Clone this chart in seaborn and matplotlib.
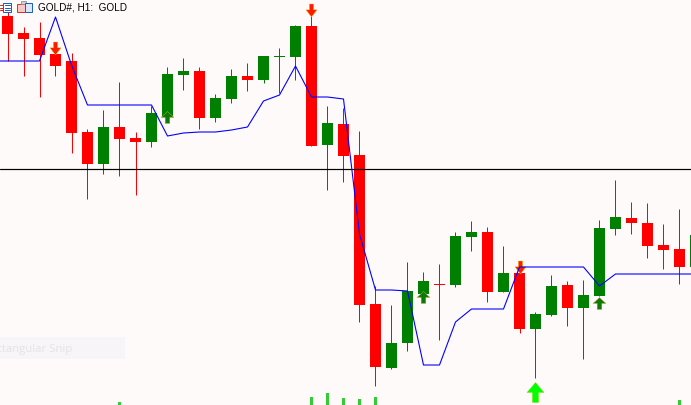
import matplotlib
matplotlib.use("Agg")
import matplotlib.pyplot as plt
from matplotlib.path import Path
from matplotlib.patches import Rectangle
import seaborn as sns
import pandas as pd
import numpy as np

# ---------------- data (price levels) ----------------
bars = list(range(44))
opens = [389, 372, 367, 351, 344, 273, 241, 278, 267, 263, 289, 330, 334, 287, 306,
         329, 325, 348, 348, 379, 260, 281, 250, 101, 37, 62, 111, 121, 120, 168,
         173, 113, 132, 76, 90, 120, 97, 109, 176, 187, 182, 160, 156, 138]
highs = [398, 378, 383, 356, 352, 276, 295, 323, 273, 299, 338, 347, 338, 311, 336,
         342, 349, 357, 380, 389, 299, 297, 274, 119, 100, 143, 133, 141, 173, 184,
         178, 159, 143, 93, 130, 124, 125, 185, 225, 203, 202, 181, 196, 170]
lows = [344, 329, 308, 329, 252, 206, 231, 229, 210, 258, 283, 315, 276, 283, 302,
        314, 322, 312, 325, 259, 215, 223, 83, 19, 36, 54, 110, 65, 118, 154,
        103, 113, 72, 27, 89, 79, 46, 109, 170, 171, 147, 136, 121, 138]
closes = [371, 366, 350, 339, 272, 241, 278, 266, 263, 292, 331, 334, 287, 307, 329,
          325, 349, 349, 379, 259, 282, 249, 100, 38, 62, 114, 124, 120, 169, 173,
          113, 132, 76, 91, 119, 97, 110, 177, 188, 182, 159, 155, 138, 170]

trail_bars = list(range(-1, 44))
trail = [344, 344, 344, 344, 388, 340, 300, 300, 300, 300, 300, 269, 272, 273, 273,
         275, 278, 304, 310, 339, 308, 308, 306, 171, 115, 115, 114, 40, 40, 83,
         96, 96, 96, 138, 138, 138, 138, 138, 119, 131, 131, 131, 131, 131, 131]

level_line = 236.5

sell_bars = [3, 19, 32]
sell_levels = [357.5, 395.5, 138]
buy_bars = [10, 26, 37]
buy_levels = [288, 108.5, 102]
strong_buy_bars = [33]
strong_buy_levels = [13]

hist_bars = [7, 19, 20, 21, 22, 23, 42]
hist_values = [3, 8, 12, 7, 6, 8, 5]

title = "GOLD#, H1:  GOLD"
snip_text = "Rectangular Snip"

# ---------------- styling ----------------
BG = "#FFFAFA"
UP = "#008000"
DOWN = "#FF0000"
W, H, DPI = 691, 406, 100
BAR_PX = 16.0
PT = 72.0 / DPI  # points per pixel

sns.set_theme(style="white")
plt.rcParams["font.family"] = ["Liberation Sans", "DejaVu Sans"]

df = pd.DataFrame({"bar": bars, "open": opens, "high": highs,
                   "low": lows, "close": closes})
df["up"] = df["close"] >= df["open"]
df["color"] = np.where(df["up"], UP, DOWN)
df["bottom"] = df[["open", "close"]].min(axis=1)
df["height"] = (df["close"] - df["open"]).abs().clip(lower=1.3)

fig = plt.figure(figsize=(W / DPI, H / DPI), dpi=DPI, facecolor=BG)
ax = fig.add_axes([0, 0, 1, 1])
ax.set_facecolor(BG)
x0 = -7.5 / BAR_PX
ax.set_xlim(x0, x0 + W / BAR_PX)
ax.set_ylim(0, H)
ax.axis("off")

# screenshot overlay box (behind everything)
deco = fig.add_axes([0, 0, 1, 1], zorder=-1)
deco.set_xlim(0, W)
deco.set_ylim(H, 0)
deco.axis("off")
deco.add_patch(Rectangle((0, 338), 125, 22, facecolor="#F7F5F7", edgecolor="none"))
deco.text(72, 349.5, snip_text, ha="right", va="center", fontsize=8.2,
          color="#E6E2E6", family=["Open Sans", "DejaVu Sans"])
deco.patch.set_alpha(0)
fig.patch.set_facecolor(BG)

# wicks
ax.vlines(df["bar"], df["low"], df["high"], colors=df["color"], lw=1.0 * PT, zorder=2)
# bodies
ax.bar(df["bar"], df["height"], bottom=df["bottom"], width=11 / BAR_PX,
       color=df["color"], linewidth=0, zorder=3)

# horizontal level
ax.axhline(level_line, color="black", lw=1.2 * PT, zorder=4)

# trailing line
sns.lineplot(x=trail_bars, y=trail, ax=ax, color="#0000FF", lw=1.1 * PT,
             zorder=6, legend=False)


def arrow_path(up=True, head=0.5, shaft=0.36, aspect=1.2):
    h = aspect
    verts = [(0, h / 2), (0.5, h / 2 - head * h), (shaft / 2, h / 2 - head * h),
             (shaft / 2, -h / 2), (-shaft / 2, -h / 2), (-shaft / 2, h / 2 - head * h),
             (-0.5, h / 2 - head * h), (0, h / 2)]
    if not up:
        verts = [(vx, -vy) for vx, vy in verts]
    codes = [Path.MOVETO] + [Path.LINETO] * 6 + [Path.CLOSEPOLY]
    return Path(verts, codes)


ax.scatter(sell_bars, sell_levels, marker=arrow_path(up=False, head=0.55, shaft=0.38, aspect=1.18),
           s=(13 * PT) ** 2, color="#FF1A00", edgecolor="#E8C000", linewidth=0.3, zorder=5)
ax.scatter(buy_bars, buy_levels, marker=arrow_path(up=True, head=0.5, shaft=0.36, aspect=0.92),
           s=(13 * PT) ** 2, color="#0A7A0A", edgecolor="#C8B040", linewidth=0.3, zorder=5)
ax.scatter(strong_buy_bars, strong_buy_levels,
           marker=arrow_path(up=True, head=0.5, shaft=0.36, aspect=1.18),
           s=(20 * PT) ** 2, color="#00FF00", edgecolor="#7FE000", linewidth=0.3, zorder=5)

# bottom histogram
ax.bar(hist_bars, hist_values, bottom=0, width=2.2 / BAR_PX, color="#32CD32",
       linewidth=0, zorder=3)

# header: icons + title
top = fig.add_axes([0, 0, 1, 1], zorder=10)
top.set_xlim(0, W)
top.set_ylim(H, 0)
top.axis("off")
top.patch.set_alpha(0)
top.add_patch(Rectangle((3.5, 3.5), 7.5, 9, facecolor="white", edgecolor="#1E5FC0", lw=1 * PT))
for yy in (6, 8.5, 11):
    top.plot([5, 10], [yy, yy], color="#1E5FC0", lw=1 * PT)
    top.plot([0, 3], [yy, yy], color="#E02020", lw=1 * PT)
top.add_patch(Rectangle((17.5, 4.5), 8, 8, facecolor="#F8C8C8", edgecolor="#E03030", lw=1 * PT))
top.add_patch(Rectangle((21, 2), 5, 3, facecolor="#D0D0D0", edgecolor="#909090", lw=0.8 * PT))
top.add_patch(Rectangle((25.5, 3.5), 6.5, 9, facecolor="#D8E8F8", edgecolor="#1E5FC0", lw=1 * PT))
top.text(38, 7.5, title, ha="left", va="center", fontsize=7.2, color="black",
         family=["Liberation Sans", "DejaVu Sans"])

fig.savefig("out.png", dpi=DPI, facecolor=BG)
